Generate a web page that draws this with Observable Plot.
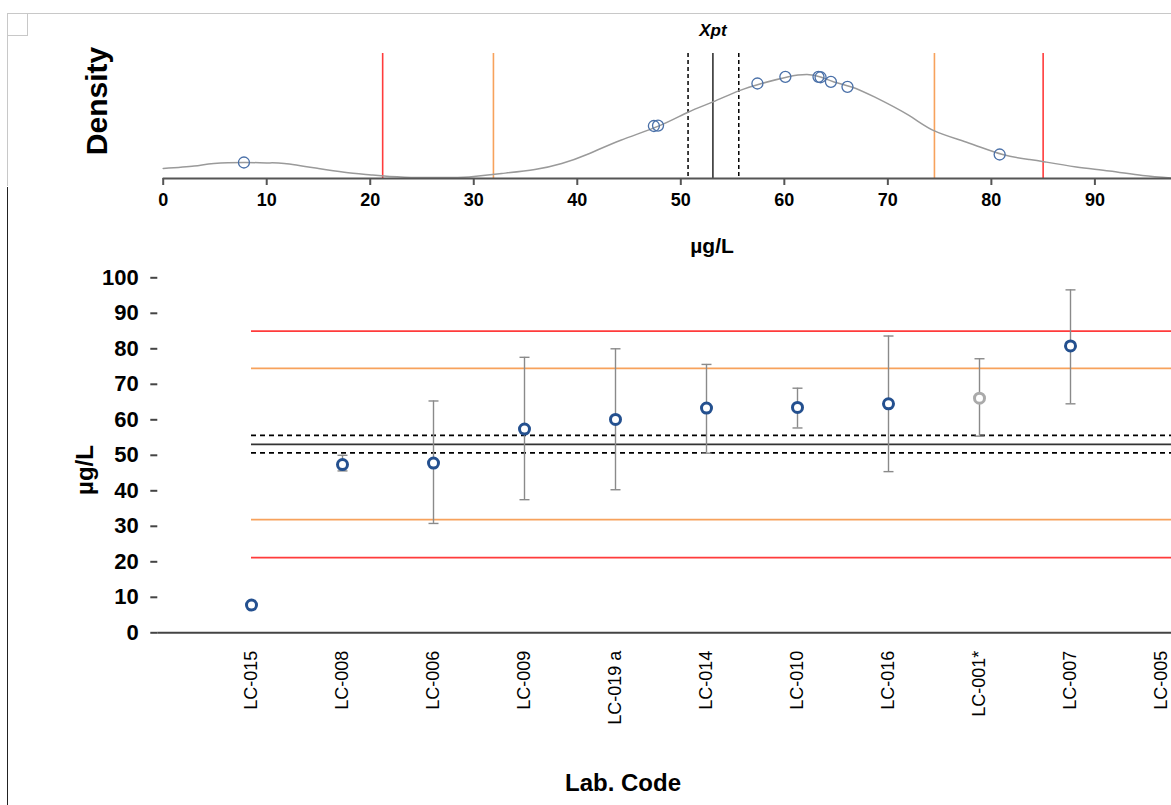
<!DOCTYPE html>
<html>
<head>
<meta charset="utf-8">
<script src="https://cdn.jsdelivr.net/npm/d3@7"></script>
<script src="https://cdn.jsdelivr.net/npm/@observablehq/plot@0.6"></script>
<style>
  html, body { margin: 0; padding: 0; background: #fff; overflow: hidden; }
  #wrap { position: relative; width: 1171px; height: 805px; overflow: hidden; font-family: "Liberation Sans", Arial, sans-serif; }
  #wrap svg { position: absolute; left: 0; overflow: visible; }
  .t { position: absolute; font-weight: bold; color: #000; white-space: nowrap; line-height: 1; }
  .deco { position: absolute; }
</style>
</head>
<body>
<div id="wrap">
  <div class="deco" style="left:28px;top:13px;width:1143px;height:0;border-top:1px solid #c8c8c8"></div>
  <div class="deco" style="left:7px;top:13px;width:21px;height:23px;border:1px solid #c8c8c8;box-sizing:border-box"></div>
  <div class="deco" style="left:7px;top:13px;width:0;height:173px;border-left:1px solid #c8c8c8"></div>
  <div class="deco" style="left:7px;top:187px;width:0;height:618px;border-left:1px solid #222"></div>
</div>
<script>
// ---- Data ----
const labs = ["LC-015","LC-008","LC-006","LC-009","LC-019 a","LC-014","LC-010","LC-016","LC-001*","LC-007","LC-005"];
const values = [7.8, 47.4, 47.8, 57.4, 60.1, 63.3, 63.5, 64.5, 66.1, 80.8, null];
const lower  = [null, 45.6, 30.8, 37.5, 40.3, 50.6, 57.7, 45.4, 55.4, 64.5, null];
const upper  = [null, 50.0, 65.3, 77.6, 80.0, 75.6, 68.9, 83.6, 77.2, 96.6, null];
const flagged = [false,false,false,false,false,false,false,false,true,false,false];
// density read at each lab's value (top panel circles)
const labDensity = [0.00384, 0.0126, 0.0127, 0.0228, 0.0244, 0.0244, 0.0243, 0.0232, 0.0220, 0.00576, null];

// kernel density curve
const densX = [0,3,4.9,7.95,10,11.7,15,17.5,20.1,23.3,27.8,30,32.7,35.9,38.5,41,44.2,47.9,50.7,53.1,55.6,57.8,60.3,62.2,63.5,64.8,66.5,68.7,72,74.5,77.8,81.1,83.7,85.2,88.2,91.4,94.6,97.4];
const densY = [0.0024,0.003,0.0036,0.00384,0.00374,0.0036,0.0024,0.00151,0.00086,0.00031,0.00024,0.00048,0.0012,0.00216,0.0036,0.00583,0.00919,0.01262,0.01591,0.01838,0.02102,0.0228,0.02438,0.02496,0.02438,0.02318,0.02198,0.01958,0.01519,0.01142,0.00854,0.00576,0.00456,0.00398,0.00278,0.00182,0.00072,0.00014];

// reference values
const xpt = 53.1;
const uLow = 50.7, uHigh = 55.6;
const warnLow = 31.9, warnHigh = 74.5;
const actLow = 21.2, actHigh = 85.0;

const topTicks = [0,10,20,30,40,50,60,70,80,90];
const yTicks = [0,10,20,30,40,50,60,70,80,90,100];

const RED = "#ff3b3b", ORANGE = "#f7a25c", BLUE = "#24508f", GRAYDOT = "#aaaaaa";

const solidRefs = [
  {v: actHigh, c: RED}, {v: warnHigh, c: ORANGE}, {v: xpt, c: "#333"},
  {v: warnLow, c: ORANGE}, {v: actLow, c: RED}
];
const dashedRefs = [{v: uHigh, c: "#000"}, {v: uLow, c: "#000"}];

const curvePts = densX.map((x, i) => ({x, d: densY[i]}));
const labRows = labs.map((lab, i) => ({lab, v: values[i], lo: lower[i], hi: upper[i], flag: flagged[i], dens: labDensity[i]}));

// the plot area continues past the right edge of the picture: one more (empty) slot
const xDomain = [...labs, ""];

const capSymbol = { draw(ctx, size) { const r = Math.sqrt(size / Math.PI); ctx.moveTo(-r, 0); ctx.lineTo(r, 0); } };

const fontFam = "Liberation Sans, Arial, sans-serif";

// ---- Top density panel ----
const topPlot = Plot.plot({
  width: 1171, height: 260,
  marginLeft: 162.7, marginRight: 0, marginTop: 53, marginBottom: 82,
  style: {fontFamily: fontFam, color: "#000", background: "transparent", overflow: "visible"},
  x: {domain: [0, 97.4]},
  y: {domain: [0, 0.030], axis: null},
  marks: [
    Plot.ruleX(solidRefs, {x: "v", stroke: "c", strokeWidth: 1.6}),
    Plot.ruleX(dashedRefs, {x: "v", stroke: "c", strokeWidth: 1.5, strokeDasharray: "4,3"}),
    Plot.line(curvePts, {x: "x", y: "d", stroke: "#9a9a9a", strokeWidth: 1.5, curve: "natural"}),
    Plot.dot(labRows.filter(d => d.v != null && d.dens != null), {x: "v", y: "dens", r: 5.5, stroke: "#4a70a8", strokeWidth: 1.3, fill: "none"}),
    Plot.axisX({ticks: topTicks, tickSize: 7, tickPadding: 8, stroke: "#555", strokeWidth: 2, fontSize: 18, fontWeight: "bold", label: null}),
    Plot.ruleY([0], {stroke: "#555", strokeWidth: 2}),
    Plot.text([xpt], {x: d => d, frameAnchor: "top", dy: -30, text: () => "Xpt", fontSize: 17, fontWeight: "bold", fontStyle: "italic"})
  ]
});
topPlot.style.top = "0px";

// ---- Bottom lab-results panel ----
const bottomPlot = Plot.plot({
  width: 1171, height: 545,
  marginLeft: 157.3, marginRight: 0, marginTop: 17.3, marginBottom: 172.7,
  style: {fontFamily: fontFam, color: "#000", background: "transparent", overflow: "visible"},
  x: {type: "point", domain: xDomain, range: [249, 1163 + 91.4], padding: 0},
  y: {domain: [0, 100]},
  marks: [
    Plot.ruleY(solidRefs, {y: "v", x1: () => labs[0], x2: () => "", stroke: "c", strokeWidth: 1.8}),
    Plot.ruleY(dashedRefs, {y: "v", x1: () => labs[0], x2: () => "", stroke: "c", strokeWidth: 1.8, strokeDasharray: "5,4"}),
    Plot.ruleX(labRows.filter(d => d.lo != null), {x: "lab", y1: "lo", y2: "hi", stroke: "#8a8a8a", strokeWidth: 1.4}),
    Plot.dot(labRows.filter(d => d.lo != null), {x: "lab", y: "lo", symbol: capSymbol, r: 5, stroke: "#8a8a8a", strokeWidth: 1.4}),
    Plot.dot(labRows.filter(d => d.hi != null), {x: "lab", y: "hi", symbol: capSymbol, r: 5, stroke: "#8a8a8a", strokeWidth: 1.4}),
    Plot.dot(labRows.filter(d => d.v != null), {x: "lab", y: "v", r: 5, stroke: d => d.flag ? GRAYDOT : BLUE, strokeWidth: 3, fill: "#fff"}),
    Plot.axisY({ticks: yTicks, tickSize: 7, tickPadding: 12, line: true, stroke: "#444", strokeWidth: 2, fontSize: 22, fontWeight: "bold", label: null}),
    Plot.axisX({ticks: labs, tickSize: 0, tickPadding: 18, tickRotate: -90, fontSize: 18, label: null}),
    Plot.ruleY([0], {stroke: "#444", strokeWidth: 2})
  ]
});
bottomPlot.style.top = "260px";

const wrap = document.getElementById("wrap");
wrap.appendChild(topPlot);
wrap.appendChild(bottomPlot);

function addText(txt, x, y, size, rotate, extra) {
  const el = document.createElement("div");
  el.className = "t";
  el.textContent = txt;
  el.style.fontSize = size + "px";
  el.style.left = x + "px";
  el.style.top = y + "px";
  el.style.transform = "translate(-50%,-50%)" + (rotate ? " rotate(-90deg)" : "");
  if (extra) Object.assign(el.style, extra);
  wrap.appendChild(el);
}
addText("Density", 97, 101, 30, true);
addText("µg/L", 712, 245, 21, false);
addText("µg/L", 85, 470, 24, true);
addText("Lab. Code", 623, 783, 24, false);
</script>
</body>
</html>
